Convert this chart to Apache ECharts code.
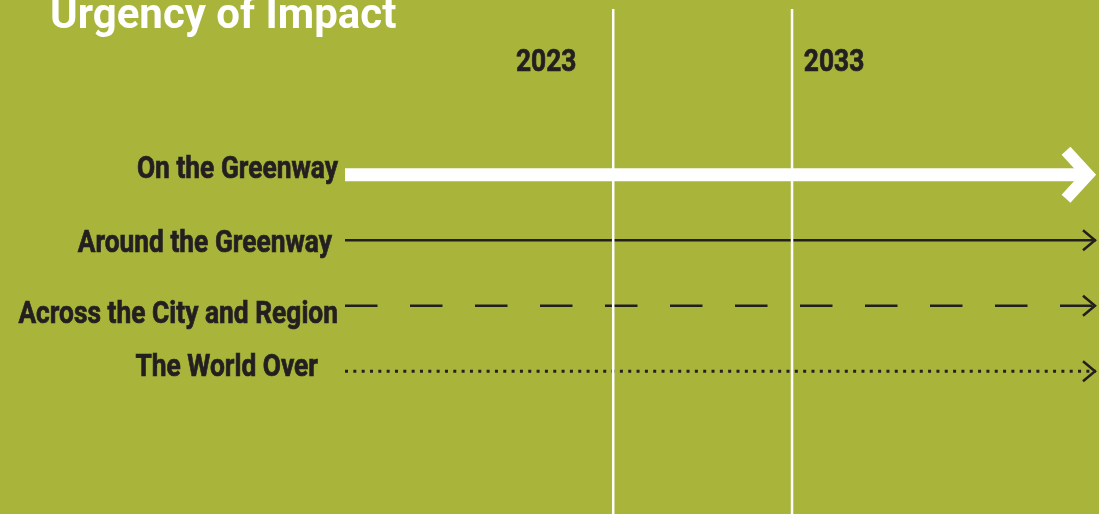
<!DOCTYPE html>
<html>
<head>
<meta charset="utf-8">
<title>Urgency of Impact</title>
<script src="https://cdn.jsdelivr.net/npm/echarts@6/dist/echarts.min.js"></script>
<style>
html, body { margin: 0; padding: 0; background: #a8b43a; }
#main { width: 1099px; height: 514px; }
</style>
</head>
<body>
<div id="main"></div>
<script>
// rows of the timeline, top to bottom
const rows = ['On the Greenway', 'Around the Greenway', 'Across the City and Region', 'The World Over'];
// every arrow runs over the same span of years
const arrowStart = [2008, 2008, 2008, 2008];
const arrowEnd = [2050, 2050, 2050, 2050];
// years marked by the white vertical lines
const yearMarks = [2023, 2033];

const ink = '#231f20';
const font = 'Roboto, "Open Sans", sans-serif';
const narrow = 0.85; // squeeze Roboto toward a condensed face

// look of each row's arrow
const rowStyle = [
  { color: '#fff', width: 13, dash: null, head: 'fat' },
  { color: ink, width: 2.5, dash: null, head: 'thin' },
  { color: ink, width: 2.5, dash: [32.5, 32.5], head: 'thin' },
  { color: ink, width: 3, dash: [3, 5.33], head: 'thin' }
];
// row label placement: gap left of the arrow start, vertical nudge
const labelGap = [7, 13, 7, 27];
const labelShift = [-5, 4, 9, -3];
// year labels sit beside their line
const yearDx = [-67, 42];

const chart = echarts.init(document.getElementById('main'));

const option = {
  backgroundColor: '#a8b43a',
  animation: false,
  title: {
    text: 'Urgency of Impact',
    left: 45,
    top: -9,
    textStyle: { color: '#fff', fontSize: 42, fontWeight: 'bold', fontFamily: font }
  },
  grid: { left: 345, right: 3, top: 142, bottom: 110 },
  xAxis: {
    type: 'value',
    min: 2008,
    max: 2050,
    show: false
  },
  yAxis: {
    type: 'category',
    data: rows,
    inverse: true,
    show: false
  },
  series: [
    {
      type: 'custom',
      name: 'arrows',
      z: 2,
      encode: { x: [0, 1], y: 2 },
      data: rows.map((r, i) => [arrowStart[i], arrowEnd[i], i]),
      renderItem: (params, api) => {
        const i = api.value(2);
        const st = rowStyle[i];
        const p0 = api.coord([api.value(0), i]);
        const p1 = api.coord([api.value(1), i]);
        const y = p0[1];
        let shaftEnd = p1[0];
        let head;
        if (st.head === 'fat') {
          shaftEnd = p1[0] - 10;
          head = [[p1[0] - 30, y - 24], [p1[0] - 8, y], [p1[0] - 30, y + 24]];
        } else {
          head = [[p1[0] - 13, y - 10], [p1[0] - 1, y], [p1[0] - 13, y + 10]];
        }
        return {
          type: 'group',
          children: [
            {
              type: 'line',
              shape: { x1: p0[0], y1: y, x2: shaftEnd, y2: y },
              style: { stroke: st.color, lineWidth: st.width, lineDash: st.dash, lineCap: 'butt' }
            },
            {
              type: 'polyline',
              shape: { points: head },
              style: {
                stroke: st.color, lineWidth: st.head === 'fat' ? 12 : 2.5,
                fill: null, lineJoin: 'miter', miterLimit: 10
              }
            },
            {
              type: 'text',
              x: p0[0] - labelGap[i],
              y: y + labelShift[i],
              scaleX: narrow,
              style: {
                text: rows[i],
                fontFamily: font, fontSize: 31, fontWeight: 'bold',
                fill: ink, stroke: ink, lineWidth: 0.7,
                align: 'right', verticalAlign: 'middle'
              }
            }
          ]
        };
      }
    },
    {
      type: 'custom',
      name: 'years',
      z: 3,
      encode: { x: 0 },
      data: yearMarks.map(y => [y]),
      renderItem: (params, api) => {
        const x = api.coord([api.value(0), 0])[0];
        return {
          type: 'group',
          children: [
            {
              type: 'line',
              shape: { x1: x, y1: 9, x2: x, y2: api.getHeight() },
              style: { stroke: '#fff', lineWidth: 2.5 }
            },
            {
              type: 'text',
              x: x + yearDx[params.dataIndex],
              y: 63,
              scaleX: narrow,
              style: {
                text: String(api.value(0)),
                fontFamily: font, fontSize: 31, fontWeight: 'bold',
                fill: ink, stroke: ink, lineWidth: 0.7,
                align: 'center', verticalAlign: 'middle'
              }
            }
          ]
        };
      }
    }
  ]
};

chart.setOption(option);
window.addEventListener('resize', () => chart.resize());
</script>
</body>
</html>
